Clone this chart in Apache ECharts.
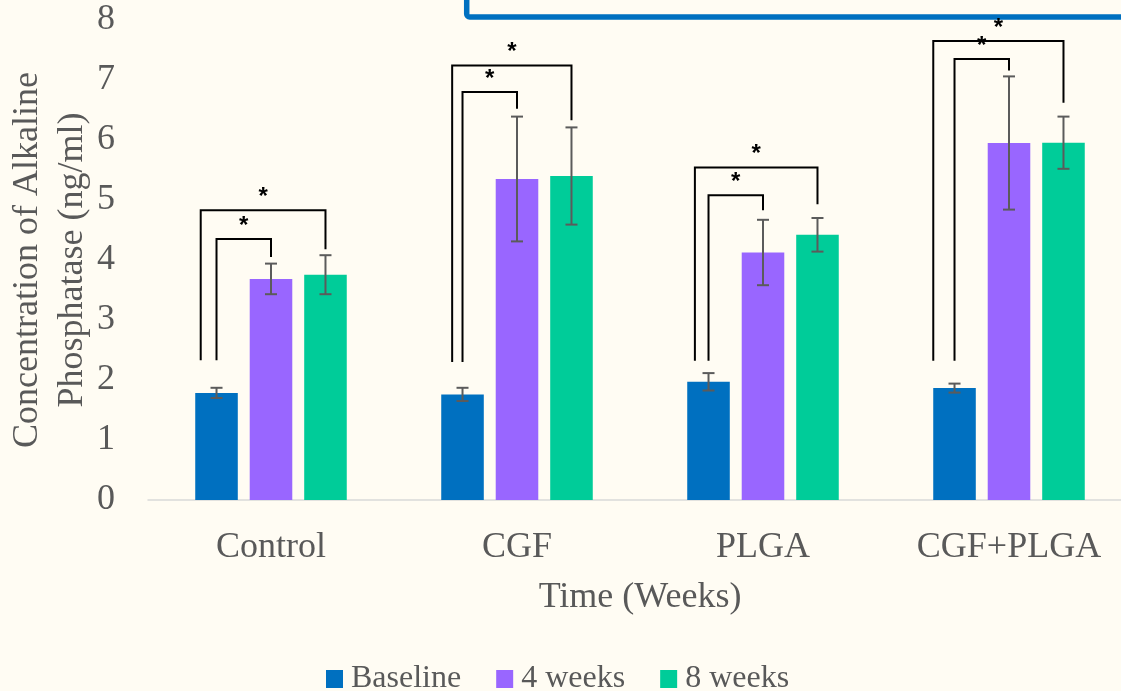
<!DOCTYPE html>
<html>
<head>
<meta charset="utf-8">
<script src="https://cdn.jsdelivr.net/npm/echarts@6/dist/echarts.min.js"></script>
<style>
html,body{margin:0;padding:0;background:#FFFCF3;}
#chart{width:1121px;height:691px;}
</style>
</head>
<body>
<div id="chart"></div>
<script>
// ---- data ----
const categories = ['Control', 'CGF', 'PLGA', 'CGF+PLGA'];
const seriesNames = ['Baseline', '4 weeks', '8 weeks'];
const baseline = [1.785, 1.76, 1.97, 1.865];
const weeks4 = [3.685, 5.35, 4.125, 5.95];
const weeks8 = [3.755, 5.40, 4.42, 5.955];
const baselineErr = [0.085, 0.11, 0.145, 0.075];
const weeks4Err = [0.255, 1.04, 0.545, 1.11];
const weeks8Err = [0.325, 0.81, 0.28, 0.435];
const yTicks = { min: 0, max: 8, interval: 1 };
// significance brackets (values on the y scale)
const legBottom = [2.33, 2.30, 2.32, 2.32];
const innerTop = [4.35, 6.80, 5.08, 7.35];
const innerRightEnd = [4.05, 6.52, 4.83, 7.16];
const outerTop = [4.83, 7.24, 5.54, 7.65];
const outerRightEnd = [4.18, 6.33, 4.93, 6.62];
const outerLeftShift = [-1.29, -1.19, -1.25, -1.39]; // in bar pitches from group centre
const sigLabel = '*';

// ---- style ----
const colors = ['#0070C0', '#9966FF', '#00CC99'];
const textColor = '#595959';
const serif = '"Liberation Serif", "Times New Roman", serif';
const CAT_GAP = 0.384, BAR_GAP = 0.28;

function barPitch(api) {
  const band = api.size([1, 0])[0];
  const w = band * (1 - CAT_GAP) / (3 + 2 * BAR_GAP);
  return w * (1 + BAR_GAP);
}

function errRender(pos) {
  return function (params, api) {
    const cat = api.value(0), mean = api.value(1), err = api.value(2);
    const pitch = barPitch(api);
    const x = api.coord([cat, mean])[0] + (pos - 1) * pitch;
    const yt = api.coord([cat, mean + err])[1];
    const yb = api.coord([cat, mean - err])[1];
    const st = { stroke: '#5B5B5B', lineWidth: 2 };
    const hw = 6;
    return {
      type: 'group',
      children: [
        { type: 'line', shape: { x1: x, y1: yt, x2: x, y2: yb }, style: st },
        { type: 'line', shape: { x1: x - hw, y1: yt, x2: x + hw, y2: yt }, style: st },
        { type: 'line', shape: { x1: x - hw, y1: yb, x2: x + hw, y2: yb }, style: st }
      ]
    };
  };
}

function bracketRender(params, api) {
  const cat = api.value(0);
  const pitch = barPitch(api);
  const cx = api.coord([cat, 0])[0];
  const yLeg = api.coord([cat, api.value(1)])[1];
  const yIT = api.coord([cat, api.value(2)])[1];
  const yIE = api.coord([cat, api.value(3)])[1];
  const yOT = api.coord([cat, api.value(4)])[1];
  const yOE = api.coord([cat, api.value(5)])[1];
  const xOL = cx + api.value(6) * pitch;
  const xIL = cx - pitch;
  const xIR = cx;
  const xOR = cx + pitch;
  const st = { stroke: '#000', lineWidth: 2, fill: null };
  const star = (x, y) => ({
    type: 'text',
    style: { text: sigLabel, x: x, y: y - 1, textAlign: 'center', textVerticalAlign: 'bottom',
      font: 'bold 24px "Liberation Sans", "DejaVu Sans", sans-serif', fill: '#000' }
  });
  return {
    type: 'group',
    children: [
      { type: 'polyline', shape: { points: [[xIL, yLeg], [xIL, yIT], [xIR, yIT], [xIR, yIE]] }, style: st },
      { type: 'polyline', shape: { points: [[xOL, yLeg], [xOL, yOT], [xOR, yOT], [xOR, yOE]] }, style: st },
      star((xIL + xIR) / 2, yIT),
      star((xOL + xOR) / 2, yOT)
    ]
  };
}

const barVals = [baseline, weeks4, weeks8];
const errVals = [baselineErr, weeks4Err, weeks8Err];

const series = [];
seriesNames.forEach((name, i) => {
  series.push({
    name: name,
    type: 'bar',
    data: barVals[i],
    barGap: (BAR_GAP * 100) + '%',
    barCategoryGap: (CAT_GAP * 100) + '%',
    itemStyle: { color: colors[i] },
    z: 2
  });
});
seriesNames.forEach((name, i) => {
  series.push({
    name: 'err' + i,
    type: 'custom',
    renderItem: errRender(i),
    data: categories.map((c, k) => [k, barVals[i][k], errVals[i][k]]),
    encode: { x: 0, y: 1 },
    z: 10,
    silent: true
  });
});
series.push({
  name: 'brackets',
  type: 'custom',
  renderItem: bracketRender,
  data: categories.map((c, k) => [k, legBottom[k], innerTop[k], innerRightEnd[k], outerTop[k], outerRightEnd[k], outerLeftShift[k]]),
  encode: { x: 0, y: 2 },
  z: 11,
  silent: true
});

const chart = echarts.init(document.getElementById('chart'));
chart.setOption({
  animation: false,
  backgroundColor: '#FFFCF3',
  grid: { left: 148, top: 20, width: 984, height: 480, containLabel: false, outerBoundsMode: 'none' },
  legend: {
    data: seriesNames,
    left: 326,
    top: 663,
    padding: 0,
    icon: 'rect',
    itemWidth: 17,
    itemHeight: 18,
    itemGap: 35,
    textStyle: { fontFamily: serif, fontSize: 32, color: textColor, padding: [0, 0, 0, 3] }
  },
  xAxis: {
    type: 'category',
    data: categories,
    name: 'Time (Weeks)',
    nameLocation: 'middle',
    nameGap: 80,
    nameMoveOverlap: false,
    nameTextStyle: { fontFamily: serif, fontSize: 36, color: textColor },
    axisLine: { lineStyle: { color: '#D9D9D9', width: 1.5 } },
    axisTick: { show: false },
    axisLabel: { fontFamily: serif, fontSize: 36, color: textColor, margin: 30 }
  },
  yAxis: {
    type: 'value',
    min: yTicks.min,
    max: yTicks.max,
    interval: yTicks.interval,
    name: 'Concentration of Alkaline\nPhosphatase (ng/ml)',
    nameLocation: 'middle',
    nameGap: 53,
    nameMoveOverlap: false,
    nameTextStyle: { fontFamily: serif, fontSize: 36, color: textColor, lineHeight: 45 },
    axisLine: { show: false },
    axisTick: { show: false },
    splitLine: { show: false },
    axisLabel: { fontFamily: serif, fontSize: 36, color: textColor, margin: 33 }
  },
  graphic: [{
    type: 'rect',
    shape: { x: 466.7, y: -200, width: 1000, height: 217, r: 3 },
    style: { fill: null, stroke: '#0070C0', lineWidth: 5.5 },
    silent: true
  }],
  series: series
});
</script>
</body>
</html>
